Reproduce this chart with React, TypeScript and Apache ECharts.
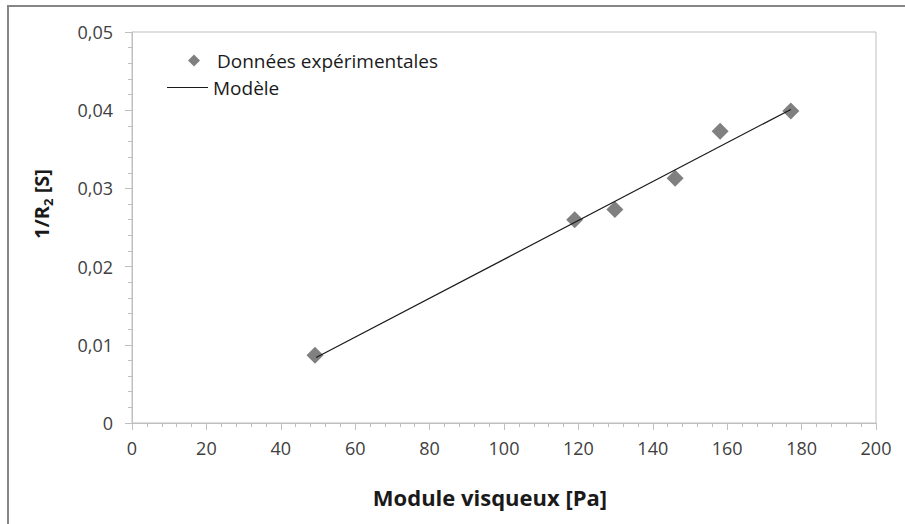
import React, { useEffect, useRef } from "react";
import * as echarts from "echarts";

const seriesNames = ["Données expérimentales", "Modèle"];
const expX = [49.2, 119.0, 129.8, 146.0, 158.1, 177.1];
const expY = [0.00866, 0.026, 0.0273, 0.0313, 0.0373, 0.0399];
const modelX = [49.5, 177.1];
const modelY = [0.00837, 0.0401];
const xTitle = "Module visqueux [Pa]";
const yTitleMain = "1/R";
const yTitleSub = "2";
const yTitleTail = " [S]";

const FONT = "'Open Sans', 'Noto Sans', sans-serif";

export default function App() {
  const ref = useRef<HTMLDivElement>(null);
  useEffect(() => {
    if (!ref.current) return;
    const chart = echarts.init(ref.current, undefined, { renderer: "svg" });
    chart.setOption({
      animation: false,
      backgroundColor: "#ffffff",
      textStyle: { fontFamily: FONT },
      grid: {
        left: 132,
        top: 32,
        right: 29,
        bottom: 101,
        show: true,
        borderColor: "#bfbfbf",
        borderWidth: 1,
        backgroundColor: "transparent",
      },
      legend: [
        {
          data: [{ name: seriesNames[0], icon: "diamond" }],
          left: 188,
          top: 51,
          padding: 0,
          itemWidth: 12,
          itemHeight: 12,
          formatter: (n: string) => "{sp|}{t|" + n + "}",
          textStyle: {
            rich: {
              sp: { width: 12 },
              t: { fontSize: 19, color: "#1a1a1a", fontFamily: FONT },
            },
          },
          selectedMode: false,
        },
        {
          data: [{ name: seriesNames[1], icon: "rect" }],
          left: 167,
          top: 78,
          padding: 0,
          itemWidth: 41,
          itemHeight: 1.2,
          itemStyle: { color: "#1a1a1a" },
          textStyle: { fontSize: 19, color: "#1a1a1a", fontFamily: FONT },
          selectedMode: false,
        },
      ],
      xAxis: {
        type: "value",
        min: 0,
        max: 200,
        interval: 20,
        axisLine: { show: true, onZero: false, lineStyle: { color: "#bfbfbf", width: 1 } },
        axisTick: { show: true, length: 7, lineStyle: { color: "#bfbfbf" } },
        minorTick: { show: true, splitNumber: 5, length: 4, lineStyle: { color: "#bfbfbf" } },
        splitLine: { show: false },
        axisLabel: { fontSize: 18, color: "#404040", margin: 16, fontFamily: FONT },
      },
      yAxis: {
        type: "value",
        min: 0,
        max: 0.05,
        interval: 0.01,
        axisLine: { show: true, onZero: false, lineStyle: { color: "#bfbfbf", width: 1 } },
        axisTick: { show: true, length: 7, lineStyle: { color: "#bfbfbf" } },
        minorTick: { show: true, splitNumber: 5, length: 4, lineStyle: { color: "#bfbfbf" } },
        splitLine: { show: false },
        axisLabel: {
          fontSize: 18,
          color: "#404040",
          margin: 19,
          fontFamily: FONT,
          formatter: (v: number) => (Math.abs(v) < 1e-9 ? "0" : v.toFixed(2).replace(".", ",")),
        },
      },
      series: [
        {
          name: seriesNames[0],
          type: "scatter",
          symbol: "diamond",
          symbolSize: 17,
          itemStyle: { color: "#808080", opacity: 1 },
          data: expX.map((x, i) => [x, expY[i]]),
          z: 2,
        },
        {
          name: seriesNames[1],
          type: "line",
          symbol: "none",
          showSymbol: false,
          lineStyle: { color: "#1a1a1a", width: 1.2 },
          itemStyle: { color: "#1a1a1a" },
          data: modelX.map((x, i) => [x, modelY[i]]),
          z: 3,
        },
      ],
      graphic: [
        {
          type: "rect",
          shape: { x: 8, y: 6, width: 1000, height: 600 },
          style: { fill: "none", stroke: "#868686", lineWidth: 2 },
          silent: true,
          z: 0,
        },
        {
          type: "text",
          x: 490,
          y: 497,
          style: {
            text: xTitle,
            fontSize: 22,
            fontWeight: "bold",
            fill: "#1a1a1a",
            fontFamily: FONT,
            align: "center",
            verticalAlign: "middle",
          },
        },
        {
          type: "text",
          x: 41,
          y: 204,
          rotation: Math.PI / 2,
          style: {
            text: yTitleMain + "{sub|" + yTitleSub + "}" + yTitleTail,
            fontSize: 20,
            fontWeight: "bold",
            fill: "#1a1a1a",
            fontFamily: FONT,
            align: "center",
            verticalAlign: "middle",
            lineHeight: 26,
            rich: {
              sub: {
                fontSize: 13,
                fontWeight: "bold",
                fontFamily: FONT,
                fill: "#1a1a1a",
                verticalAlign: "bottom",
                lineHeight: 14,
              },
            },
          },
        },
      ],
    });
    return () => chart.dispose();
  }, []);
  return (
    <div
      ref={ref}
      style={{ position: "fixed", left: 0, top: 0, width: 905, height: 524 }}
    />
  );
}
